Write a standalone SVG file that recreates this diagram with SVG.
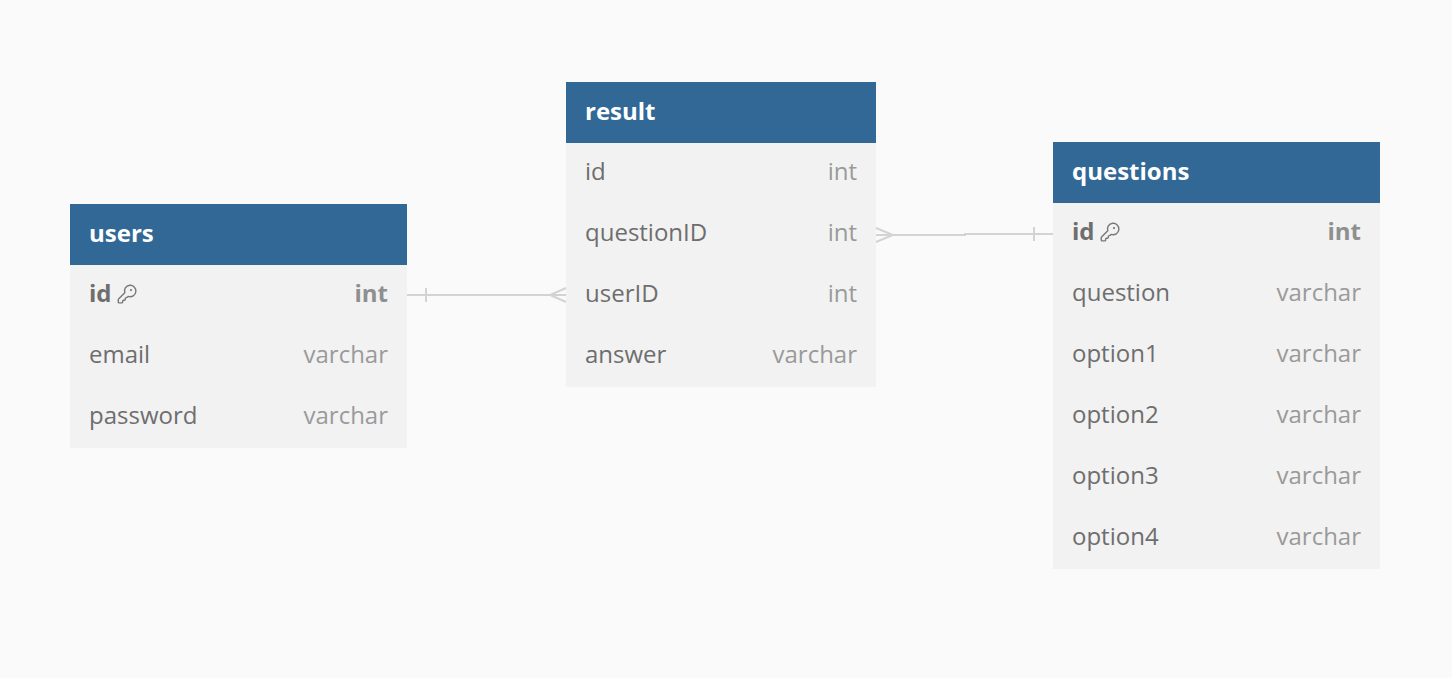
<svg xmlns="http://www.w3.org/2000/svg" width="1452" height="678" viewBox="0 0 1452 678">
<defs>
<style>
.bg{fill:#fafafa}
.hdr{fill:#316896}
.body{fill:#f2f2f2}
.title{font-family:"Open Sans","Noto Sans",sans-serif;font-weight:700;font-size:24px;fill:#ffffff}
.name{font-family:"Open Sans","Noto Sans",sans-serif;font-size:24px;fill:#6e6e6e}
.type{font-family:"Open Sans","Noto Sans",sans-serif;font-size:24px;fill:#9a9a9a;text-anchor:end}
.pk{font-weight:700;fill:#6e6e6e}
.pkt{font-weight:700;fill:#8f8f8f}
.conn{stroke:#d3d3d3;stroke-width:2;fill:none}
.key{stroke:#777;stroke-width:1.6;fill:none;stroke-linejoin:round;stroke-linecap:round}
</style>
<g id="keyicon">
<path class="key" d="M2.586 17.414A2 2 0 0 0 2 18.828V21a1 1 0 0 0 1 1h3a1 1 0 0 0 1-1v-1a1 1 0 0 1 1-1h1a1 1 0 0 0 1-1v-1a1 1 0 0 1 1-1h.172a2 2 0 0 0 1.414-.586l.814-.814a6.5 6.5 0 1 0-4-4z"/>
<circle class="key" cx="16.5" cy="7.5" r=".5"/>
</g>
</defs>
<rect class="bg" x="0" y="0" width="1452" height="678"/>

<g id="connectors">
<path class="conn" d="M407 295H566"/>
<path class="conn" d="M426 288V302"/>
<path class="conn" d="M566 288L550 295L566 302"/>
<path class="conn" d="M876 235H965V234H1053"/>
<path class="conn" d="M876 228L893 235L876 242"/>
<path class="conn" d="M1034 227V241"/>
</g>

<g id="users">
<rect class="hdr" x="70" y="204" width="337" height="61"/>
<rect class="body" x="70" y="265" width="337" height="183"/>
<text class="title" x="89" y="242">users</text>
<text class="name pk" x="89" y="302">id</text>
<use href="#keyicon" transform="translate(116.5,283.5) scale(0.88)"/>
<text class="type pkt" x="388" y="302">int</text>
<text class="name" x="89" y="363">email</text>
<text class="type" x="388" y="363">varchar</text>
<text class="name" x="89" y="424">password</text>
<text class="type" x="388" y="424">varchar</text>
</g>

<g id="result">
<rect class="hdr" x="566" y="82" width="310" height="61"/>
<rect class="body" x="566" y="143" width="310" height="244"/>
<text class="title" x="585" y="120">result</text>
<text class="name" x="585" y="180">id</text>
<text class="type" x="857" y="180">int</text>
<text class="name" x="585" y="241">questionID</text>
<text class="type" x="857" y="241">int</text>
<text class="name" x="585" y="302">userID</text>
<text class="type" x="857" y="302">int</text>
<text class="name" x="585" y="363">answer</text>
<text class="type" x="857" y="363">varchar</text>
</g>

<g id="questions">
<rect class="hdr" x="1053" y="142" width="327" height="61"/>
<rect class="body" x="1053" y="203" width="327" height="366"/>
<text class="title" x="1072" y="180">questions</text>
<text class="name pk" x="1072" y="240">id</text>
<use href="#keyicon" transform="translate(1099.5,221.5) scale(0.88)"/>
<text class="type pkt" x="1361" y="240">int</text>
<text class="name" x="1072" y="301">question</text>
<text class="type" x="1361" y="301">varchar</text>
<text class="name" x="1072" y="362">option1</text>
<text class="type" x="1361" y="362">varchar</text>
<text class="name" x="1072" y="423">option2</text>
<text class="type" x="1361" y="423">varchar</text>
<text class="name" x="1072" y="484">option3</text>
<text class="type" x="1361" y="484">varchar</text>
<text class="name" x="1072" y="545">option4</text>
<text class="type" x="1361" y="545">varchar</text>
</g>
</svg>
